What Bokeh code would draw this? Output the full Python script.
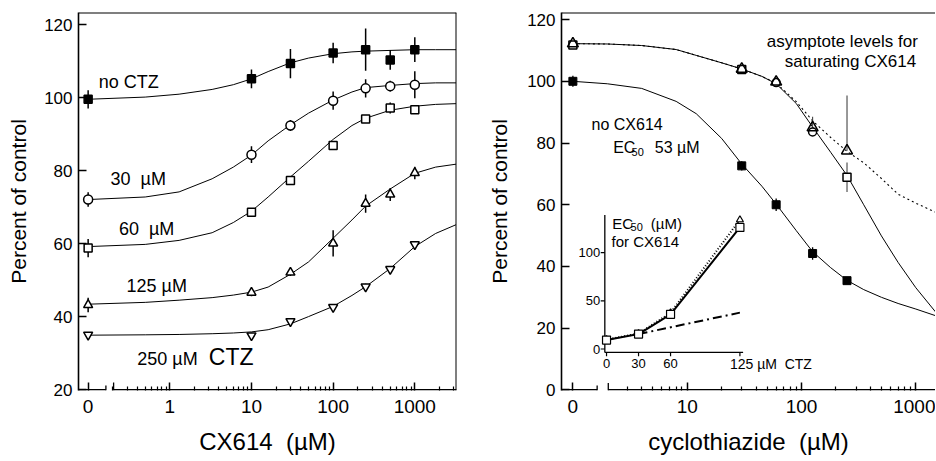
import numpy as np
from bokeh.plotting import figure
from bokeh.layouts import row
from bokeh.models import FixedTicker, CustomJSTickFormatter, Range1d, LinearScale, Span
from bokeh.embed import file_html
from bokeh.resources import INLINE
from bokeh.core.properties import value

FONT = "Liberation Sans"
NB = "\u00a0"

# ------------------------- Left panel data (CX614 dose, µM) -------------------------
cx_conc = [0, 10, 30, 100, 250, 500, 1000]
noctz = [99.6, 105.2, 109.4, 112.3, 113.2, 110.4, 113.2]
noctz_err = [2.5, 2.6, 4.0, 2.8, 5.8, 2.7, 3.4]
ctz30 = [72.1, 84.4, 92.4, 99.2, 102.6, 103.2, 103.6]
ctz30_err = [2.0, 2.3, 1.5, 2.5, 2.5, 1.5, 3.7]
ctz60 = [58.8, 68.6, 77.3, 86.9, 94.2, 97.2, 96.7]
ctz60_err = [2.5, 1.0, 1.0, 1.0, 1.0, 1.5, 1.0]
ctz125 = [43.2, 46.6, 52.1, 60.1, 71.0, 73.5, 79.4]
ctz125_err = [2.0, 1.0, 1.0, 3.6, 2.5, 1.8, 1.7]
ctz250 = [35.0, 34.8, 38.7, 42.6, 48.2, 53.0, 59.8]
ctz250_err = [0.8, 0.8, 0.8, 0.8, 0.8, 0.8, 0.8]

# fitted curves
curve_cx = [0, 0.5, 1.3, 3.3, 6, 10, 16, 30, 50, 100, 170, 250, 500, 1000, 1800, 3200]
fit_noctz = [99.6, 100.2, 101.0, 102.3, 103.6, 105.2, 107.2, 109.6, 110.9, 112.1, 112.6, 112.8, 113.0, 113.2, 113.2, 113.2]
fit_30 = [72.1, 72.8, 74.2, 77.8, 81.0, 84.3, 88.2, 92.6, 95.8, 99.4, 101.6, 102.8, 103.4, 103.9, 104.1, 104.1]
fit_60 = [59.2, 59.8, 60.9, 63.0, 65.8, 68.9, 72.8, 78.3, 82.6, 88.6, 92.4, 94.4, 96.6, 97.7, 98.2, 98.4]
fit_125 = [43.4, 43.9, 44.5, 45.2, 45.9, 46.7, 48.1, 51.6, 55.0, 61.5, 66.5, 70.3, 75.0, 79.3, 81.0, 81.8]
fit_250 = [34.9, 35.0, 35.1, 35.3, 35.5, 35.8, 36.4, 38.0, 40.0, 42.8, 45.8, 48.2, 53.2, 59.2, 62.8, 65.2]

left_yticks = [20, 40, 60, 80, 100, 120]
left_xticks = [0.1, 1, 10, 100, 1000]
left_xminor = [0.2, 0.3, 0.4, 0.5, 0.6, 0.7, 0.8, 0.9, 2, 3, 4, 5, 6, 7, 8, 9,
               20, 30, 40, 50, 60, 70, 80, 90, 200, 300, 400, 500, 600, 700, 800, 900, 2000, 3000]

# ------------------------- Right panel data (cyclothiazide, µM) -------------------------
ctz_conc = [0, 30, 60, 125, 250]
no_cx = [100.0, 72.6, 60.0, 44.2, 35.4]
no_cx_err = [1.8, 1.5, 2.0, 2.0, 0.8]
sat_tri = [112.2, 104.0, 99.8, 85.0, 77.5]
sat_tri_up = [0.8, 0.8, 0.8, 3.5, 17.9]
sat_tri_dn = [0.8, 0.8, 0.8, 2.5, 0.0]
sat_sq = [111.8, 103.8, 99.6, 83.6, 68.9]
sat_sq_err = [0.5, 0.5, 1.0, 1.0, 4.8]
sat_sq_marker = ["square", "square", "circle", "circle", "square"]

curve_ctz = [0, 2, 4, 8, 12, 20, 30, 45, 60, 90, 125, 180, 250, 350, 500, 700, 1000, 1500]
fit_nocx = [100.0, 99.2, 97.7, 93.5, 89.5, 81.5, 73.2, 66.0, 60.2, 51.6, 44.8, 39.6, 35.5, 32.5, 30.0, 28.0, 26.2, 24.0]
fit_sat_solid = [112.2, 112.1, 111.6, 110.3, 108.4, 106.0, 104.0, 101.6, 99.2, 92.8, 85.2, 77.0, 69.5, 60.0, 49.9, 41.3, 33.1, 25.1]
fit_sat_dotted = [112.2, 112.1, 111.6, 110.3, 108.4, 106.0, 104.0, 101.6, 99.4, 93.4, 87.2, 81.8, 77.3, 73.6, 68.5, 63.4, 60.5, 57.5]

right_yticks = [0, 20, 40, 60, 80, 100, 120]
right_xticks = [1, 10, 100, 1000]
right_xminor = [3, 4, 5, 6, 7, 8, 9, 20, 30, 40, 50, 60, 70, 80, 90, 200, 300, 400, 500, 600, 700, 800, 900]

# inset: EC50 for CX614 vs CTZ
inset_ctz = [0, 30, 60, 125]
inset_ec50_sq = [9.3, 15.5, 36.0, 126.0]
inset_ec50_tri = [9.8, 16.0, 37.5, 134.0]
inset_lin_ctz = [30, 125]
inset_lin_ec50 = [15.5, 37.7]
inset_xticks = [0, 30, 60, 125]
inset_yticks = [0, 50, 100]

ZERO_L = 0.1   # where "0" sits on the left log axis
ZERO_R = 1.0   # where "0" sits on the right log axis


def at_zero(xs, z):
    return [z if v == 0 else v for v in xs]


def style_axes(p, major, minor, zero, yticks, xlabel):
    p.xgrid.visible = False
    p.ygrid.visible = False
    p.outline_line_color = None
    p.background_fill_color = "white"
    xa = p.xaxis[0]
    xa.ticker = FixedTicker(ticks=major, minor_ticks=minor)
    xa.formatter = CustomJSTickFormatter(args=dict(z=zero),
        code="return (Math.abs(tick - z) < 1e-9) ? '0' : String(Math.round(tick));")
    xa.axis_line_color = None
    xa.major_tick_in = 8
    xa.major_tick_out = 0
    xa.minor_tick_in = 4
    xa.minor_tick_out = 0
    xa.major_tick_line_width = 1.5
    xa.minor_tick_line_width = 1.2
    xa.major_tick_line_color = "black"
    xa.minor_tick_line_color = "black"
    xa.major_label_text_font = FONT
    xa.major_label_text_font_size = "19px"
    xa.major_label_text_color = "black"
    xa.major_label_standoff = 9
    xa.axis_label = xlabel
    xa.axis_label_text_font = FONT
    xa.axis_label_text_font_size = "24px"
    xa.axis_label_text_font_style = "normal"
    xa.axis_label_text_color = "black"
    xa.axis_label_standoff = 12
    ya = p.yaxis[0]
    ya.ticker = FixedTicker(ticks=yticks, minor_ticks=[])
    ya.axis_line_width = 1.6
    ya.axis_line_color = "black"
    ya.major_tick_in = 8
    ya.major_tick_out = 0
    ya.major_tick_line_width = 1.5
    ya.major_tick_line_color = "black"
    ya.major_label_text_font = FONT
    ya.major_label_text_font_size = "17px"
    ya.major_label_text_color = "black"
    ya.major_label_standoff = 6
    ya.axis_label = "Percent of control"
    ya.axis_label_text_font = FONT
    ya.axis_label_text_font_size = "21px"
    ya.axis_label_text_font_style = "normal"
    ya.axis_label_text_color = "black"


def txt(p, x, y, s, size, align="left", **kw):
    p.text(x=[x], y=[y], text=[s], text_font=value(FONT), text_font_size=size,
           text_align=align, text_baseline="middle", text_color="black", **kw)


# =============================== LEFT PANEL ===============================
L_X0, L_X1 = 0.0762, 3240
L_Y0, L_Y1 = 19.73, 123.4
pl = figure(width=466, height=460, x_axis_type="log",
            x_range=Range1d(L_X0, L_X1), y_range=Range1d(L_Y0, L_Y1),
            output_backend="svg", toolbar_location=None,
            min_border_left=78, min_border_right=10, min_border_top=12, min_border_bottom=68)
style_axes(pl, left_xticks, left_xminor, ZERO_L, left_yticks, "CX614" + NB + " (µM)")
pl.yaxis[0].axis_label_standoff = 11

# frame top / right lines and broken bottom line
pl.add_layout(Span(location=L_Y1, dimension="width", line_color="black", line_width=2))
pl.add_layout(Span(location=L_X1, dimension="height", line_color="black", line_width=2))
yb = L_Y0 + 0.2
pl.segment(x0=[L_X0, 0.205], y0=[yb, yb], x1=[0.165, L_X1], y1=[yb, yb], line_color="black", line_width=1.6)
pl.segment(x0=[0.165, 0.205], y0=[L_Y0, L_Y0], x1=[0.165, 0.205], y1=[L_Y0 + 1.4, L_Y0 + 2.2],
           line_color="black", line_width=1.3)

cxp = at_zero(cx_conc, ZERO_L)
cvp = at_zero(curve_cx, ZERO_L)
for fit in [fit_noctz, fit_30, fit_60, fit_125, fit_250]:
    pl.line(cvp, fit, line_color="black", line_width=1)

series_left = [
    (noctz, noctz_err, "square", "black", 8),
    (ctz30, ctz30_err, "circle", "white", 9),
    (ctz60, ctz60_err, "square", "white", 8),
    (ctz125, ctz125_err, "triangle", "white", 9),
    (ctz250, ctz250_err, "inverted_triangle", "white", 9),
]
for vals, err, mk, fill, sz in series_left:
    lo = [v - e for v, e in zip(vals, err)]
    hi = [v + e for v, e in zip(vals, err)]
    pl.segment(x0=cxp, y0=lo, x1=cxp, y1=hi, line_color="black", line_width=1.5)
    pl.scatter(cxp, vals, marker=mk, size=sz, fill_color=fill, line_color="black", line_width=1.5)

txt(pl, 0.135, 104.4, "no CTZ", "18px")
txt(pl, 0.188, 77.6, "30" + NB + NB + "µM", "18px")
txt(pl, 0.238, 63.9, "60" + NB + NB + "µM", "18px")
txt(pl, 0.295, 48.5, "125 µM", "18px")
txt(pl, 0.40, 28.5, "250 µM", "18px")
txt(pl, 3.0, 28.9, "CTZ", "23px")

# =============================== RIGHT PANEL ===============================
R_X0, R_X1 = 0.795, 1486
R_Y0, R_Y1 = -0.2, 122.3
pr = figure(width=469, height=460, x_axis_type="log",
            x_range=Range1d(R_X0, R_X1), y_range=Range1d(R_Y0, R_Y1),
            output_backend="svg", toolbar_location=None,
            min_border_left=95, min_border_right=0, min_border_top=10, min_border_bottom=70)
style_axes(pr, right_xticks, right_xminor, ZERO_R, right_yticks, "cyclothiazide" + NB + " (µM)")
pr.yaxis[0].axis_label_standoff = 13

pr.add_layout(Span(location=R_Y1, dimension="width", line_color="black", line_width=2))
ybr = R_Y0 + 0.25
pr.segment(x0=[R_X0, 2.04], y0=[ybr, ybr], x1=[1.63, R_X1], y1=[ybr, ybr], line_color="black", line_width=1.6)
pr.segment(x0=[1.63, 2.04], y0=[R_Y0, R_Y0], x1=[1.63, 2.04], y1=[R_Y0 + 1.6, R_Y0 + 2.4],
           line_color="black", line_width=1.3)

ccp = at_zero(curve_ctz, ZERO_R)
czp = at_zero(ctz_conc, ZERO_R)
pr.line(ccp, fit_nocx, line_color="black", line_width=1)
pr.line(ccp, fit_sat_solid, line_color="black", line_width=1)
pr.line(ccp, fit_sat_dotted, line_color="black", line_width=1.1, line_dash="2 3")

# error bars
pr.segment(x0=czp, y0=[v - e for v, e in zip(no_cx, no_cx_err)], x1=czp,
           y1=[v + e for v, e in zip(no_cx, no_cx_err)], line_color="black", line_width=1.3)
pr.segment(x0=czp, y0=[v - e for v, e in zip(sat_sq, sat_sq_err)], x1=czp,
           y1=[v + e for v, e in zip(sat_sq, sat_sq_err)], line_color="#444444", line_width=1.1)
pr.segment(x0=czp, y0=[v - e for v, e in zip(sat_tri, sat_tri_dn)], x1=czp,
           y1=[v + e for v, e in zip(sat_tri, sat_tri_up)], line_color="#444444", line_width=1.1)

pr.scatter(czp, no_cx, marker="square", size=8, fill_color="black", line_color="black")
pr.scatter(czp, sat_sq, marker=sat_sq_marker, size=8, fill_color="white", line_color="black", line_width=1.5)
pr.scatter(czp, sat_tri, marker="triangle", size=11, fill_color=None, line_color="black", line_width=1.5)

txt(pr, 49.6, 113.0, "asymptote levels for", "17px")
txt(pr, 71.5, 106.3, "saturating CX614", "17px")
txt(pr, 1.456, 86.0, "no CX614", "16px")
txt(pr, 2.25, 78.6, "EC", "16px")
txt(pr, 3.26, 77.0, "50", "11px")
txt(pr, 5.2, 78.6, "53 µM", "16px")

# ---------------- inset (own linear ranges mapped into the frame) ----------------
pr.extra_x_ranges = {"inset": Range1d(-42.2, 308.3)}
pr.extra_x_scales = {"inset": LinearScale()}
pr.extra_y_ranges = {"inset": Range1d(-43.0, 348.8)}
pr.extra_y_scales = {"inset": LinearScale()}
IN = dict(x_range_name="inset", y_range_name="inset")

ix0, iy0 = -1.6, -3.5
pr.segment(x0=[ix0, ix0], y0=[iy0, iy0], x1=[ix0, 128.0], y1=[139.0, iy0],
           line_color="black", line_width=1.3, **IN)
pr.segment(x0=[ix0] * len(inset_yticks), y0=inset_yticks, x1=[ix0 - 3.8] * len(inset_yticks), y1=inset_yticks,
           line_color="black", line_width=1.2, **IN)
pr.segment(x0=inset_xticks, y0=[iy0] * len(inset_xticks), x1=inset_xticks, y1=[iy0 - 4.0] * len(inset_xticks),
           line_color="black", line_width=1.2, **IN)

pr.line(inset_lin_ctz, inset_lin_ec50, line_color="black", line_width=2, line_dash="9 4 2 4", **IN)
pr.line(inset_ctz, inset_ec50_tri, line_color="black", line_width=2, line_dash="1 2", **IN)
pr.line(inset_ctz, inset_ec50_sq, line_color="black", line_width=2, **IN)
pr.scatter(inset_ctz, inset_ec50_tri, marker="triangle", size=7, fill_color="white", line_color="black", line_width=1.2, **IN)
pr.scatter(inset_ctz, inset_ec50_sq, marker="square", size=8, fill_color="white", line_color="black", line_width=1.2, **IN)

for t in inset_yticks:
    pr.text(x=[-6.0], y=[t], text=[str(t)], text_font=value(FONT), text_font_size="13px",
            text_align="right", text_baseline="middle", **IN)
for t in inset_xticks[:-1]:
    pr.text(x=[t], y=[-15.5], text=[str(t)], text_font=value(FONT), text_font_size="13px",
            text_align="center", text_baseline="middle", **IN)
pr.text(x=[115.6], y=[-15.5], text=["125 µM" + NB + " CTZ"], text_font=value(FONT), text_font_size="14px",
        text_align="left", text_baseline="middle", **IN)
pr.text(x=[5.3], y=[130.5], text=["EC"], text_font=value(FONT), text_font_size="15px",
        text_align="left", text_baseline="middle", **IN)
pr.text(x=[22.5], y=[126.5], text=["50"], text_font=value(FONT), text_font_size="11px",
        text_align="left", text_baseline="middle", **IN)
pr.text(x=[41.5], y=[130.5], text=["(µM)"], text_font=value(FONT), text_font_size="15px",
        text_align="left", text_baseline="middle", **IN)
pr.text(x=[4.7], y=[111.6], text=["for CX614"], text_font=value(FONT), text_font_size="15px",
        text_align="left", text_baseline="middle", **IN)

layout = row(pl, pr)
open("out.html", "w").write(file_html(layout, INLINE))
